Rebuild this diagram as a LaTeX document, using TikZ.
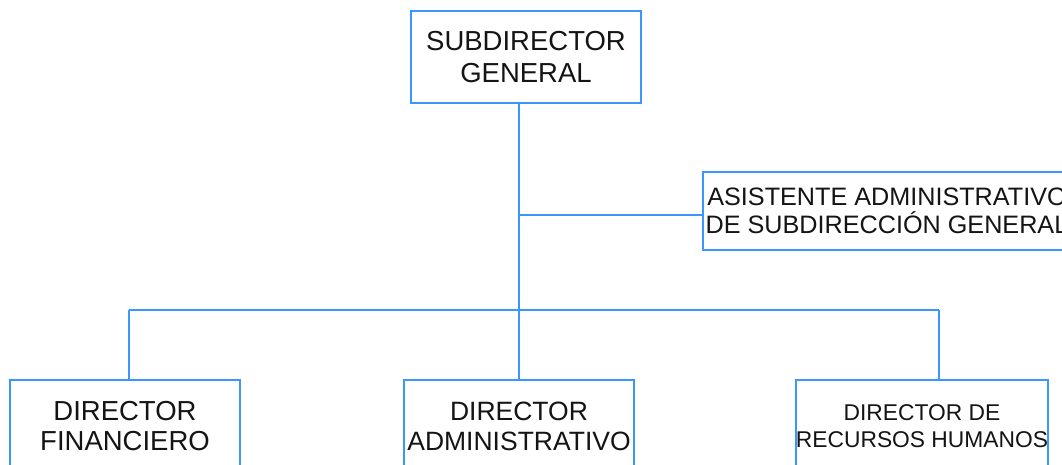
\documentclass[tikz,border=0pt]{standalone}
\usepackage{fontspec}
\setmainfont{Liberation Sans}
\usetikzlibrary{calc}
\definecolor{chartblue}{RGB}{60,150,255}
\definecolor{inkgray}{RGB}{20,20,20}

\begin{document}
\begin{tikzpicture}[x=1pt,y=-1pt,
    unit/.style={draw=chartblue,line width=2.6pt,fill=white,text=inkgray,align=center,inner sep=0pt},
    link/.style={draw=chartblue,line width=2.6pt}]

    \useasboundingbox (0,0) rectangle (1062,465);

\coordinate (tap) at (519,215);
\coordinate (busM) at (519,310);
\coordinate (busL) at (129,310);
\coordinate (busR) at (939,310);

\node[unit,minimum width=230,minimum height=92,font=\fontsize{27.5}{32}\selectfont] (sub) at (526,57) {SUBDIRECTOR\\GENERAL};
\node[unit,minimum width=368,minimum height=78,font=\fontsize{25.2}{28}\selectfont] (asis) at (887,211) {ASISTENTE ADMINISTRATIVO\\DE SUBDIRECCIÓN GENERAL};
\node[unit,minimum width=230,minimum height=92,font=\fontsize{27.5}{30}\selectfont] (fin) at (125,426) {DIRECTOR\\FINANCIERO};
\node[unit,minimum width=230,minimum height=92,font=\fontsize{26.5}{30}\selectfont] (adm) at (519,426) {DIRECTOR\\ADMINISTRATIVO};
\node[unit,minimum width=252,minimum height=92,font=\fontsize{22.8}{27}\selectfont] (rh) at (922,426) {DIRECTOR DE\\RECURSOS HUMANOS};

\draw[link] (busM |- sub.south) -- (busM);
\draw[link] (tap) -- (tap -| asis.west);
\draw[link] (busL) -- (busR);
\draw[link] (busL) -- (busL |- fin.north);
\draw[link] (busM) -- (adm.north);
\draw[link] (busR) -- (busR |- rh.north);

  \end{tikzpicture}
\end{document}
